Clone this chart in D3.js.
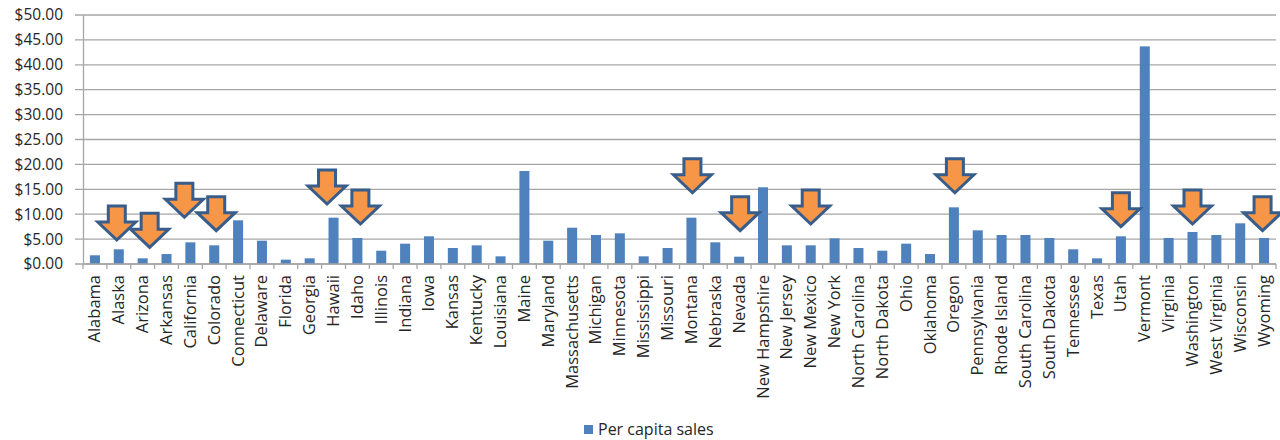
<!DOCTYPE html>
<html>
<head>
<meta charset="utf-8">
<script src="https://cdn.jsdelivr.net/npm/d3@7"></script>
<style>
  html, body { margin: 0; padding: 0; background: #fff; }
  svg { display: block; }
  text { font-family: "Open Sans", "Noto Sans", sans-serif; fill: #262626; }
</style>
</head>
<body>
<svg id="chart" width="1280" height="440"></svg>
<script>
// Per capita sales by state (USD)
const states = ["Alabama","Alaska","Arizona","Arkansas","California","Colorado","Connecticut","Delaware","Florida","Georgia",
  "Hawaii","Idaho","Illinois","Indiana","Iowa","Kansas","Kentucky","Louisiana","Maine","Maryland",
  "Massachusetts","Michigan","Minnesota","Mississippi","Missouri","Montana","Nebraska","Nevada","New Hampshire","New Jersey",
  "New Mexico","New York","North Carolina","North Dakota","Ohio","Oklahoma","Oregon","Pennsylvania","Rhode Island","South Carolina",
  "South Dakota","Tennessee","Texas","Utah","Vermont","Virginia","Washington","West Virginia","Wisconsin","Wyoming"];

const perCapitaSales = [1.75,2.95,1.14,2.00,4.35,3.75,8.77,4.68,0.87,1.14,
  9.30,5.22,2.67,4.08,5.56,3.21,3.75,1.54,18.67,4.68,
  7.29,5.82,6.16,1.54,3.21,9.30,4.35,1.47,15.40,3.75,
  3.75,5.15,3.21,2.67,4.08,2.00,11.38,6.76,5.82,5.82,
  5.22,2.95,1.14,5.56,43.70,5.22,6.43,5.82,8.17,5.22];

const yTicks = [0,5,10,15,20,25,30,35,40,45,50];

// Highlighted states: arrow tip level (USD) and horizontal nudge
const arrowStates = ["Alaska","Arizona","California","Colorado","Hawaii","Idaho","Montana","Nevada","New Mexico","Oregon","Utah","Washington","Wyoming"];
const arrowTipValues = [4.82,3.35,9.38,6.69,12.05,8.03,14.30,6.69,8.03,14.30,7.49,8.03,6.69];
const arrowNudges = [-2,7,-6,2,-6.5,3,1,1,0,1,0,0,-1.5];

const seriesName = "Per capita sales";

const svg = d3.select("#chart");
const margin = {left: 83, right: 4, top: 15, bottom: 176};
const W = 1280, H = 440;

const x = d3.scaleBand().domain(states)
  .range([margin.left, W - margin.right])
  .paddingInner(0.58).paddingOuter(0.29);
const y = d3.scaleLinear().domain([0, 50]).range([H - margin.bottom, margin.top]);

// Gridlines (extend left past the axis as tick marks)
svg.append("g").selectAll("line").data(yTicks).join("line")
  .attr("x1", margin.left - 8).attr("x2", W - margin.right)
  .attr("y1", d => y(d)).attr("y2", d => y(d))
  .attr("stroke", "#a6a6a6").attr("stroke-width", 1.3);

// Y axis
const yAxis = d3.axisLeft(y).tickValues(yTicks)
  .tickFormat(d => "$" + d3.format(".2f")(d)).tickSize(0).tickPadding(20);
const gy = svg.append("g").attr("transform", `translate(${margin.left},0)`).call(yAxis);
gy.select(".domain").attr("stroke", "#a6a6a6").attr("stroke-width", 1.3);
gy.selectAll("text").style("font-size", "15.5px").attr("fill", "#262626");

// Bars
svg.append("g").selectAll("rect").data(states).join("rect")
  .attr("x", d => x(d)).attr("width", x.bandwidth())
  .attr("y", (d, i) => y(perCapitaSales[i]))
  .attr("height", (d, i) => y(0) - y(perCapitaSales[i]))
  .attr("fill", "#4f81bd");

// X axis: baseline, ticks at category boundaries, rotated labels
const step = x.step();
const xg = svg.append("g").attr("transform", `translate(0,${y(0)})`);
xg.append("line").attr("x1", margin.left).attr("x2", W - margin.right)
  .attr("stroke", "#a6a6a6").attr("stroke-width", 1.3);
const boundaries = d3.range(states.length + 1).map(i => margin.left + i * step);
xg.selectAll("line.tick").data(boundaries).join("line").attr("class", "tick")
  .attr("x1", d => d).attr("x2", d => d).attr("y1", 0).attr("y2", 5)
  .attr("stroke", "#a6a6a6").attr("stroke-width", 1.3);
xg.selectAll("text").data(states).join("text")
  .attr("transform", d => `translate(${x(d) + x.bandwidth() / 2 + 5.5},11) rotate(-90)`)
  .attr("text-anchor", "end")
  .style("font-size", "16.5px")
  .text(d => d);

// Arrow callouts
const arrowH = 34, headH = 18, headW = 38, shaftW = 17;
const arrowPath = `M${-shaftW/2},${-arrowH} L${shaftW/2},${-arrowH} L${shaftW/2},${-headH} L${headW/2},${-headH} L0,0 L${-headW/2},${-headH} L${-shaftW/2},${-headH} Z`;
svg.append("g").selectAll("path").data(arrowStates).join("path")
  .attr("d", arrowPath)
  .attr("transform", (d, i) => `translate(${x(d) + x.bandwidth() / 2 + arrowNudges[i]},${y(arrowTipValues[i])})`)
  .attr("fill", "#f79646").attr("stroke", "#385d8a").attr("stroke-width", 3)
  .attr("stroke-linejoin", "miter");

// Legend
const lg = svg.append("g").attr("transform", "translate(584,425)");
lg.append("rect").attr("width", 9).attr("height", 9).attr("fill", "#4f81bd");
lg.append("text").attr("x", 14).attr("y", 10).style("font-size", "16px").text(seriesName);
</script>
</body>
</html>
